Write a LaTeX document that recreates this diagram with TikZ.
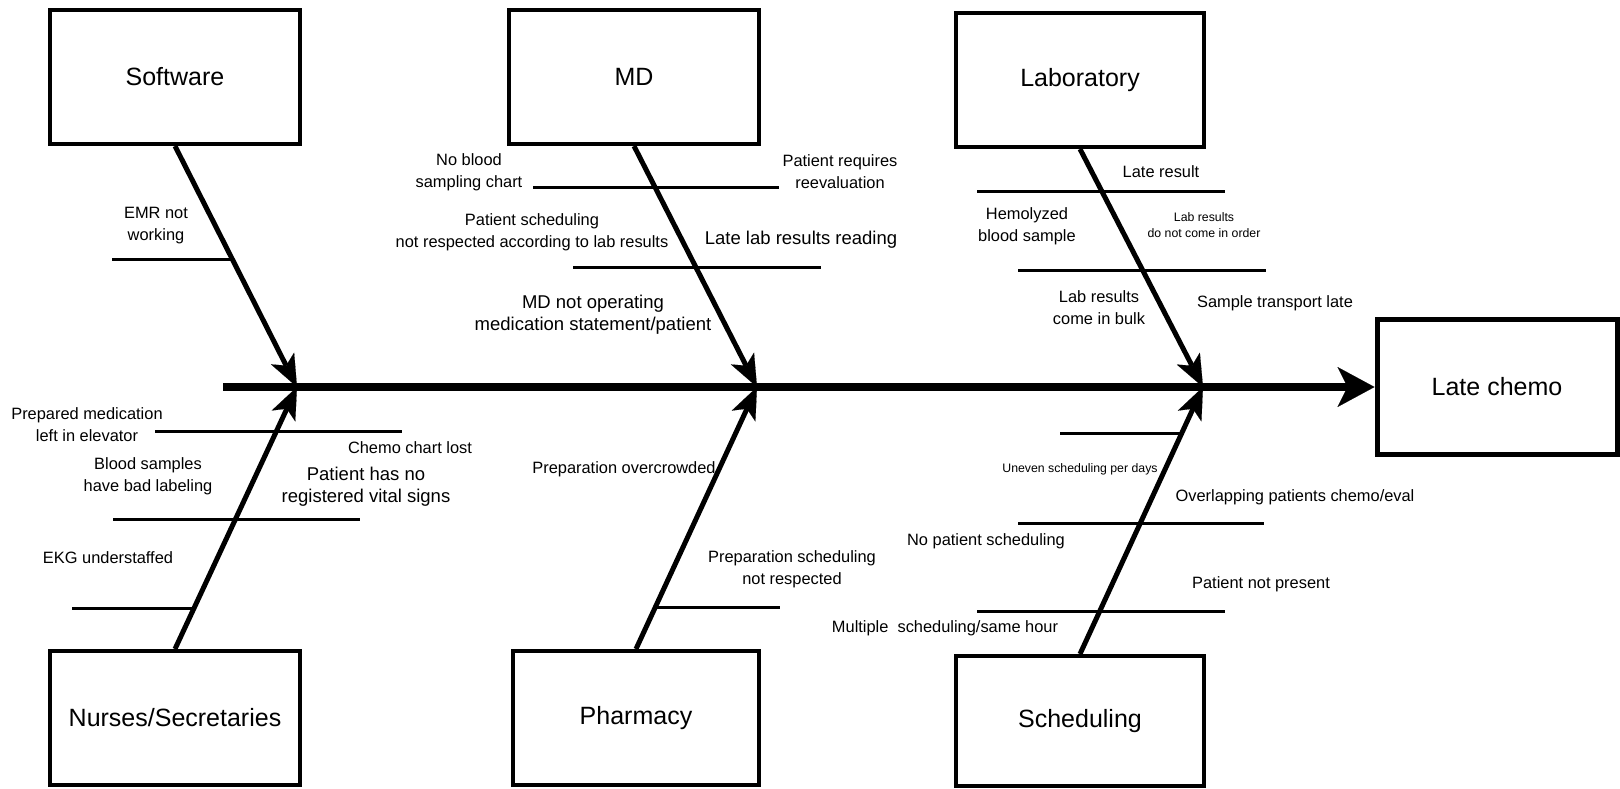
\documentclass[tikz,border=0pt]{standalone}
\usepackage{fontspec}
\setmainfont{Liberation Sans}
\usetikzlibrary{arrows.meta}
\begin{document}
\begin{tikzpicture}[x=1pt,y=-1pt,
  box/.style={draw, line width=4pt, minimum width=250pt, minimum height=134pt, inner sep=0pt, font=\fontsize{25}{30}\selectfont},
  cause/.style={line width=5pt, -{Stealth[length=32pt,width=26pt,inset=8pt,line width=0.1pt]}},
  spine/.style={line width=8pt, -{Stealth[length=37pt,width=40pt,inset=10pt,line width=0.1pt]}},
  bone/.style={line width=3pt},
  lbl/.style={align=center, inner sep=0pt, font=\fontsize{16.4}{22}\selectfont},
  lbig/.style={align=center, inner sep=0pt, font=\fontsize{18.5}{22}\selectfont},
  ltiny/.style={align=center, inner sep=0pt, font=\fontsize{12.3}{16}\selectfont}]
\useasboundingbox (0,0) rectangle (1620,788);

% boxes
\node[box] (sw) at (175,77) {Software};
\node[box] (md) at (634,77) {MD};
\node[box, minimum width=248pt] (lab) at (1080,80) {Laboratory};
\node[box] (nur) at (175,718) {Nurses/Secretaries};
\node[box, minimum width=246pt] (ph) at (636,718) {Pharmacy};
\node[box, minimum width=248pt, minimum height=130pt] (sch) at (1080,721) {Scheduling};
\node[box, line width=5pt, minimum width=240pt, minimum height=135pt] (lc) at (1497,387) {Late chemo};

% spine
\coordinate (start) at (223,387);
\coordinate (jsw) at (297,387);
\coordinate (jmd) at (757,387);
\coordinate (jlab) at (1203,387);
\draw[spine] (start) -- (lc.west);

% cause arrows
\draw[cause] (sw.south) -- (jsw);
\draw[cause] (nur.north) -- (jsw);
\draw[cause] (md.south) -- (jmd);
\draw[cause] (ph.north) -- (jmd);
\draw[cause] (lab.south) -- (jlab);
\draw[cause] (sch.north) -- (jlab);

% bones
\draw[bone] (112,259) -- (231,259);
\draw[bone] (533,187) -- (779,187);
\draw[bone] (573,267) -- (821,267);
\draw[bone] (977,191) -- (1225,191);
\draw[bone] (1018,270) -- (1266,270);
\draw[bone] (155,431) -- (402,431);
\draw[bone] (113,519) -- (360,519);
\draw[bone] (72,608) -- (195,608);
\draw[bone] (657,607) -- (780,607);
\draw[bone] (1060,433) -- (1182,433);
\draw[bone] (1018,523) -- (1264,523);
\draw[bone] (977,611) -- (1225,611);

% labels
\node[lbl] (t1) at (156,226) {EMR not\\working};
\node[lbl] (t2) at (469,172) {No blood\\sampling chart};
\node[lbl] (t3) at (840,172) {Patient requires\\reevaluation};
\node[lbl] (t4) at (532,232) {Patient scheduling\\not respected according to lab results};
\node[lbig] (t5) at (801,240) {Late lab results reading};
\node[lbig] (t6) at (593,315) {MD not operating\\medication statement/patient};
\node[lbl] (t7) at (1161,172) {Late result};
\node[lbl] (t8) at (1027,226) {Hemolyzed\\blood sample};
\node[ltiny] (t9) at (1204,225) {Lab results\\do not come in order};
\node[lbl] (t10) at (1099,308) {Lab results\\come in bulk};
\node[lbl] (t11) at (1275,303) {Sample transport late};
\node[lbl] (t12) at (87,425) {Prepared medication\\left in elevator};
\node[lbl] (t13) at (410,448) {Chemo chart lost};
\node[lbl] (t14) at (148,476) {Blood samples\\have bad labeling};
\node[lbig] (t15) at (366,487) {Patient has no\\registered vital signs};
\node[lbl] (t16) at (108,558) {EKG understaffed};
\node[lbl] (t17) at (624,469) {Preparation overcrowded};
\node[lbl] (t18) at (792,569) {Preparation scheduling\\not respected};
\node[ltiny] (t19) at (1080,469) {Uneven scheduling per days};
\node[lbl] (t20) at (1295,497) {Overlapping patients chemo/eval};
\node[lbl] (t21) at (986,541) {No patient scheduling};
\node[lbl] (t22) at (1261,584) {Patient not present};
\node[lbl] (t23) at (945,628) {Multiple\ \ scheduling/same hour};
\end{tikzpicture}
\end{document}
